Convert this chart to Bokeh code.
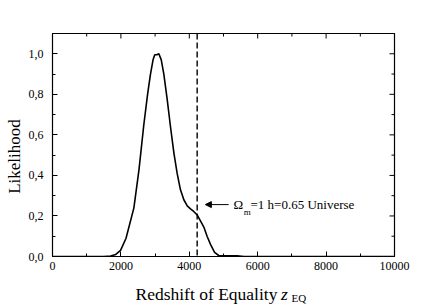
import numpy as np
from bokeh.plotting import figure
from bokeh.layouts import column, row
from bokeh.models import Range1d, Arrow, NormalHead, Span, FixedTicker
from bokeh.core.properties import value
from bokeh.embed import file_html
from bokeh.resources import INLINE

# Likelihood curve
z_eq = [0, 1000, 1500, 1700, 1850, 1990, 2150, 2380, 2530, 2670, 2780, 2865, 2940, 2990,
        3050, 3110, 3180, 3255, 3350, 3450, 3550, 3645, 3740, 3840, 3940, 4035, 4130,
        4230, 4330, 4425, 4520, 4620, 4740, 4860, 5000, 5200, 5400, 5600, 10000]
likelihood = [0, 0, 0, 0.002, 0.01, 0.03, 0.09, 0.24, 0.43, 0.65, 0.80, 0.90, 0.97, 0.995,
              0.995, 1.0, 0.97, 0.90, 0.78, 0.64, 0.51, 0.41, 0.33, 0.28, 0.25, 0.235, 0.222,
              0.205, 0.175, 0.145, 0.10, 0.06, 0.02, 0.005, 0.004, 0.004, 0.003, 0, 0]
z_universe = 4230
annot_y = 0.256
x_ticks = [0, 2000, 4000, 6000, 8000, 10000]
x_minor = list(range(0, 10001, 1000))
y_ticks = [0.0, 0.2, 0.4, 0.6, 0.8, 1.0]
y_minor = [round(i * 0.1, 1) for i in range(12)]
y_tick_labels = ["0,0", "0,2", "0,4", "0,6", "0,8", "1,0"]
X_MAX, Y_MAX = 10000, 1.1

FONT = "Liberation Serif"

# ---- main plot ----
p = figure(width=412, height=276, output_backend="svg", toolbar_location=None,
           x_range=Range1d(0, X_MAX), y_range=Range1d(0, Y_MAX),
           min_border_left=28, min_border_right=42, min_border_top=33, min_border_bottom=20)
p.grid.visible = False
p.outline_line_color = "black"
p.outline_line_width = 1.2

xa = p.xaxis[0]
xa.ticker = FixedTicker(ticks=x_ticks, minor_ticks=x_minor)
xa.major_label_standoff = 5
ya = p.yaxis[0]
ya.ticker = FixedTicker(ticks=y_ticks, minor_ticks=y_minor)
ya.major_label_overrides = {t: l for t, l in zip(y_ticks, y_tick_labels)}
ya.major_label_standoff = 9
for ax in [xa, ya]:
    ax.major_label_text_font = FONT
    ax.major_label_text_font_size = "12px"
    ax.major_label_text_color = "black"
    ax.axis_line_color = "black"
    ax.major_tick_in = 5
    ax.major_tick_out = 0
    ax.minor_tick_in = 3
    ax.minor_tick_out = 0

# mirrored ticks on top and right edges
top_len = [5 if t in x_ticks else 3 for t in x_minor]
p.segment(x0=x_minor, x1=x_minor, y0=[Y_MAX] * len(x_minor),
          y1=[Y_MAX - l * Y_MAX / 223 for l in top_len], line_color="black", line_width=1)
right_len = [5 if t in y_ticks else 3 for t in y_minor]
p.segment(x0=[X_MAX] * len(y_minor), x1=[X_MAX - l * X_MAX / 342 for l in right_len],
          y0=y_minor, y1=y_minor, line_color="black", line_width=1)

p.line(z_eq, likelihood, line_color="black", line_width=1.6)
p.add_layout(Span(location=z_universe, dimension="height", line_color="black",
                  line_dash="6 3", line_width=1.4))

p.add_layout(Arrow(end=NormalHead(size=6, fill_color="black", line_color="black"),
                   x_start=5150, y_start=annot_y, x_end=4470, y_end=annot_y,
                   line_color="black", line_width=1))
p.text(x=[5290], y=[annot_y], text=["Ω"], text_font=value(FONT), text_font_size="13px",
       text_baseline="middle", text_color="black")
p.text(x=[5590], y=[annot_y - 0.037], text=["m"], text_font=value(FONT), text_font_size="9px",
       text_baseline="middle", text_color="black")
p.text(x=[5790], y=[annot_y], text=["=1 h=0.65 Universe"], text_font=value(FONT),
       text_font_size="13px", text_baseline="middle", text_color="black")

# ---- x-axis title strip ----
q = figure(width=412, height=30, output_backend="svg", toolbar_location=None,
           x_range=p.x_range, y_range=Range1d(0, 1),
           min_border_left=28, min_border_right=42, min_border_top=0, min_border_bottom=0)
q.axis.visible = False
q.grid.visible = False
q.outline_line_color = None
q.text(x=[2427], y=[0.42], text=["Redshift of Equality"], text_font=value(FONT),
       text_font_size="17.5px", text_baseline="alphabetic", text_color="black")
q.text(x=[6680], y=[0.42], text=["z"], text_font=value(FONT), text_font_style="italic",
       text_font_size="17.5px", text_baseline="alphabetic", text_color="black")
q.text(x=[6990], y=[0.27], text=["EQ"], text_font=value(FONT),
       text_font_size="11px", text_baseline="alphabetic", text_color="black")

# ---- y-axis title strip ----
s = figure(width=24, height=306, output_backend="svg", toolbar_location=None,
           x_range=Range1d(0, 1), y_range=Range1d(0, 1),
           min_border_left=0, min_border_right=0, min_border_top=0, min_border_bottom=0)
s.axis.visible = False
s.grid.visible = False
s.outline_line_color = None
s.text(x=[0.6], y=[0.49], text=["Likelihood"], text_font=value(FONT), text_font_size="17px",
       angle=np.pi / 2, text_align="center", text_baseline="middle", text_color="black")

layout = row(s, column(p, q, spacing=0), spacing=0)
open("out.html", "w").write(file_html(layout, INLINE))
